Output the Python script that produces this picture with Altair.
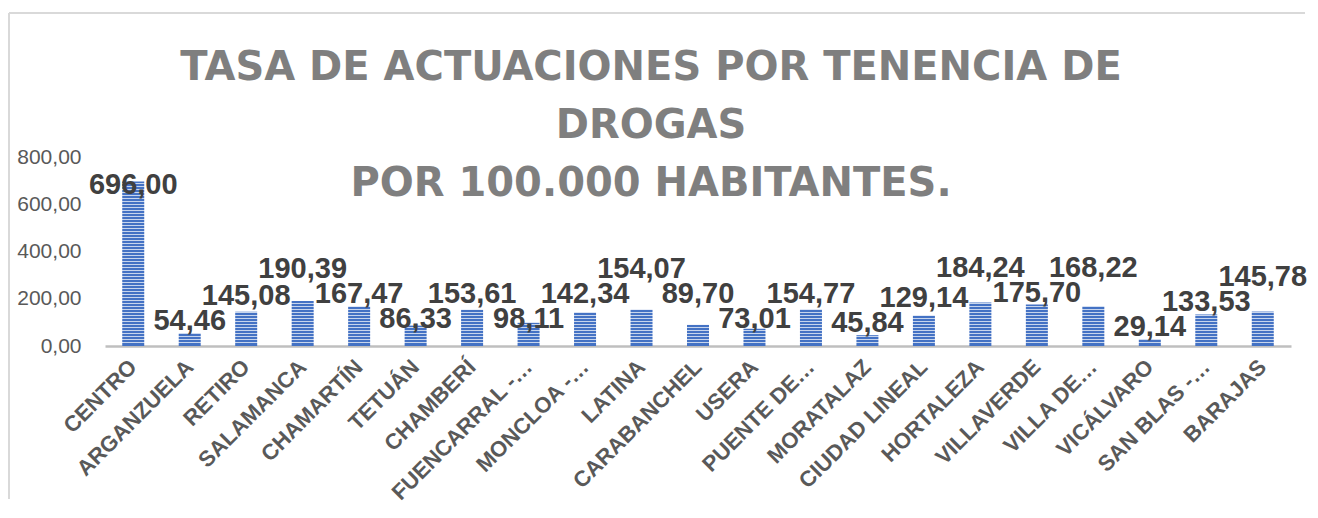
import altair as alt
import pandas as pd

districts = ["CENTRO", "ARGANZUELA", "RETIRO", "SALAMANCA", "CHAMARTÍN", "TETUÁN",
             "CHAMBERÍ", "FUENCARRAL -…", "MONCLOA -…", "LATINA", "CARABANCHEL",
             "USERA", "PUENTE DE…", "MORATALAZ", "CIUDAD LINEAL", "HORTALEZA",
             "VILLAVERDE", "VILLA DE…", "VICÁLVARO", "SAN BLAS -…", "BARAJAS"]
rates = [696.00, 54.46, 145.08, 190.39, 167.47, 86.33, 153.61, 98.11, 142.34, 154.07,
         89.70, 73.01, 154.77, 45.84, 129.14, 184.24, 175.70, 168.22, 29.14, 133.53, 145.78]
y_ticks = [0, 200, 400, 600, 800]
title_lines = ["TASA DE ACTUACIONES POR TENENCIA DE", "DROGAS", "POR 100.000 HABITANTES."]

W = 1186
H = 189
YMAX = 800
k = H / YMAX


def place_labels(vals, gap=3, sink=12, row=25, top_min=37):
    """Non-overlapping label baselines (px from plot top), chosen by DP."""
    tops = [H - v * k for v in vals]
    cands = []
    for t in tops:
        b0 = t - gap
        hi = max(min(t + sink, H - 1), top_min)
        cands.append([(b, abs(b0 - b) if b <= b0 else 2 * (b - b0))
                      for b in range(int(top_min), int(hi) + 1)])
    best = [{b: (c, None) for b, c in cands[0]}]
    for i in range(1, len(vals)):
        prev = sorted(best[-1].items(), key=lambda kv: kv[1][0])
        cur = {}
        for b, c in cands[i]:
            for pb, (pc, _) in prev:
                if abs(b - pb) >= row:
                    cur[b] = (pc + c, pb)
                    break
        best.append(cur)
    b = min(best[-1], key=lambda x: best[-1][x][0])
    out = [b]
    for i in range(len(vals) - 1, 0, -1):
        b = best[i][b][1]
        out.append(b)
    out.reverse()
    return [(H - b) / k for b in out]


labels = [f"{v:.2f}".replace(".", ",") for v in rates]
df = pd.DataFrame({"district": districts, "rate": rates, "label": labels,
                   "label_y": place_labels(rates)})

# fine horizontal stripe texture for the bars
stripe_px = []
p = H - 3.5
while p > H - max(rates) * k:
    stripe_px.append(p)
    p -= 3
stripes_df = pd.DataFrame({"s": [(H - q) / k for q in stripe_px]})

xaxis = alt.Axis(title=None, labelAngle=-45, labelAlign="right", labelBaseline="middle",
                 labelFont="Liberation Sans", labelFontSize=22, labelFontWeight="bold",
                 labelColor="#595959", labelPadding=17, ticks=False,
                 domainColor="#bfbfbf", domainWidth=2.5, labelOverlap=False, labelLimit=400)
yaxis = alt.Axis(title=None, values=y_ticks,
                 labelExpr="replace(format(datum.value, '.2f'), '.', ',')",
                 grid=False, domain=False, ticks=False, labelFont="Liberation Sans",
                 labelFontSize=21, labelColor="#595959", labelPadding=24)
yscale = alt.Scale(domain=[0, YMAX], nice=False, zero=True)
xenc = alt.X("district:N", sort=districts, axis=xaxis,
             scale=alt.Scale(paddingInner=0, paddingOuter=0))

bars = alt.Chart(df).mark_bar(size=22, color="#4472c4").encode(
    x=xenc, y=alt.Y("rate:Q", scale=yscale, axis=yaxis))

stripes = alt.Chart(stripes_df).mark_rule(color="#ffffff", strokeWidth=1, opacity=0.7).encode(
    y=alt.Y("s:Q", scale=yscale, axis=yaxis), x=alt.value(0), x2=alt.value(W))

text = alt.Chart(df).mark_text(font="Liberation Sans", fontSize=29, fontWeight="bold",
                               color="#404040", baseline="alphabetic", align="center").encode(
    x=xenc, y=alt.Y("label_y:Q", scale=yscale, axis=yaxis), text="label:N")

frame = pd.DataFrame({"a": [0]})
left_border = alt.Chart(frame).mark_rule(color="#d9d9d9", strokeWidth=2).encode(
    x=alt.value(-96), y=alt.value(-144), y2=alt.value(H + 153))
top_border = alt.Chart(frame).mark_rule(color="#d9d9d9", strokeWidth=2).encode(
    x=alt.value(-96), x2=alt.value(W + 14), y=alt.value(-144))

title = alt.Chart(frame).mark_text(font="DejaVu Sans", fontSize=40, fontWeight="bold",
                                   color="#7f7f7f", lineHeight=58, align="center",
                                   baseline="alphabetic").encode(
    x=alt.value(546), y=alt.value(-77), text=alt.value(title_lines))

chart = alt.layer(bars, stripes, text, left_border, top_border, title).properties(
    width=W, height=H, background="#ffffff",
    padding={"left": 0, "top": 4, "right": 0, "bottom": 0},
).configure_view(stroke=None)

chart.save("out.html", embed_options={"renderer": "svg", "actions": False})
